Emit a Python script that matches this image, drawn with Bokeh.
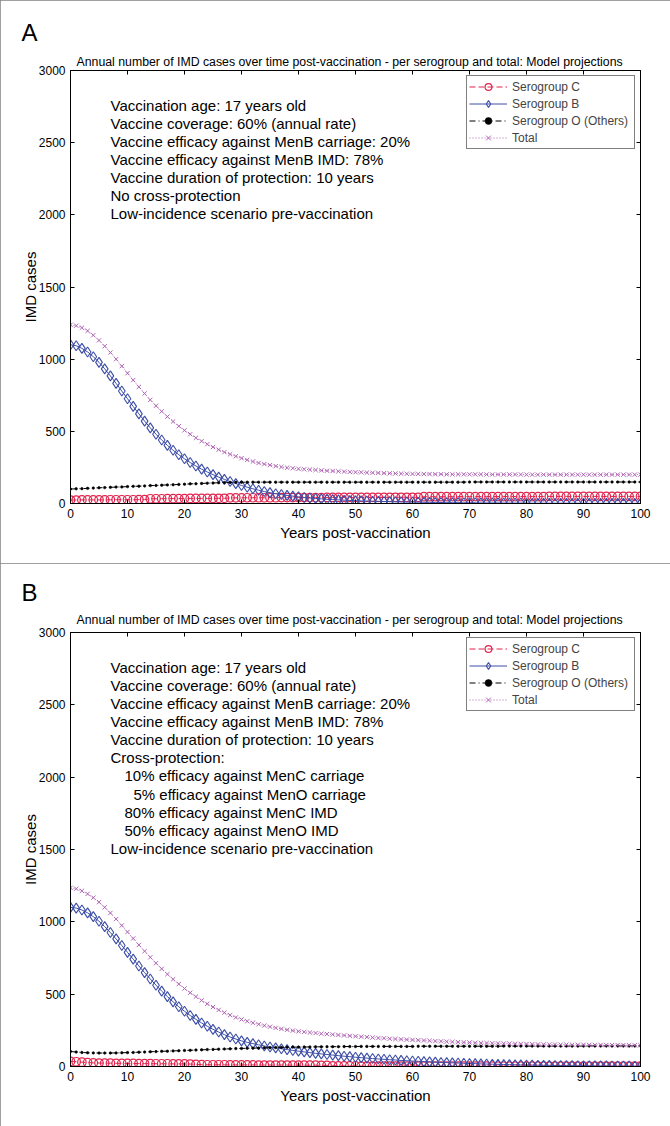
from bokeh.plotting import figure
from bokeh.models import Range1d, LinearAxis, FixedTicker, Label, Legend, LegendItem, Title
from bokeh.layouts import column
from bokeh.embed import file_html
from bokeh.resources import INLINE

# ---------------- data ----------------
years = list(range(0, 101))
x_ticks = [0, 10, 20, 30, 40, 50, 60, 70, 80, 90, 100]
y_ticks = [0, 500, 1000, 1500, 2000, 2500, 3000]
series_names = ["Serogroup C", "Serogroup B", "Serogroup O (Others)", "Total"]

title_text = ("Annual number of IMD cases over time post-vaccination - "
              "per serogroup and total: Model projections")

# Panel A : no cross-protection
a_sero_c = [24, 24, 25, 25, 25, 25, 25, 26, 26, 26,
            26, 26, 27, 27, 33, 33, 33, 34, 34, 34,
            34, 35, 35, 35, 35, 35, 36, 36, 39, 39,
            39, 40, 40, 40, 40, 40, 40, 41, 41, 41,
            41, 41, 41, 41, 41, 42, 42, 42, 42, 42,
            42, 42, 42, 42, 42, 42, 43, 43, 43, 43,
            43, 43, 47, 47, 47, 47, 47, 48, 48, 48,
            48, 48, 48, 48, 48, 48, 48, 48, 48, 48,
            48, 48, 48, 48, 49, 49, 49, 49, 49, 49,
            49, 49, 49, 49, 49, 49, 49, 49, 49, 49,
            49]
a_sero_b = [1100, 1093, 1075, 1050, 1017, 978, 933, 884, 832, 779,
            726, 673, 621, 571, 524, 480, 440, 403, 369, 338,
            310, 284, 260, 238, 218, 200, 183, 167, 152, 138,
            125, 113, 102, 92, 83, 75, 68, 62, 56, 51,
            46, 42, 38, 35, 32, 29, 27, 25, 23, 21,
            19, 18, 17, 16, 15, 14, 13, 12, 11, 10,
            10, 9, 8, 8, 7, 7, 6, 6, 6, 5,
            5, 5, 4, 4, 4, 4, 3, 3, 3, 3,
            3, 2, 2, 2, 2, 2, 2, 2, 2, 2,
            2, 1, 1, 1, 1, 1, 1, 1, 1, 1,
            1]
a_sero_o = [100, 102, 103, 105, 107, 109, 110, 112, 114, 115,
            117, 119, 120, 122, 124, 125, 127, 129, 130, 132,
            134, 136, 137, 139, 141, 142, 144, 145, 146, 147,
            147, 148, 148, 148, 148, 148, 148, 148, 148, 148,
            148, 148, 148, 148, 148, 148, 148, 148, 148, 148,
            148, 148, 148, 148, 148, 148, 148, 148, 148, 148,
            148, 148, 148, 148, 148, 148, 148, 148, 148, 148,
            149, 149, 149, 149, 149, 149, 149, 149, 149, 149,
            149, 149, 149, 149, 149, 149, 149, 149, 149, 149,
            149, 149, 149, 149, 149, 149, 149, 149, 149, 149,
            149]
a_total = [1238, 1232, 1218, 1196, 1166, 1130, 1090, 1046, 1000, 952,
           903, 855, 808, 762, 718, 677, 638, 602, 568, 536,
           507, 480, 455, 432, 411, 391, 373, 356, 341, 327,
           314, 302, 291, 281, 273, 266, 259, 253, 248, 244,
           240, 237, 235, 232, 229, 227, 225, 223, 221, 219,
           217, 216, 214, 213, 212, 210, 209, 208, 207, 206,
           205, 205, 204, 204, 203, 203, 202, 202, 202, 202,
           202, 202, 202, 201, 201, 201, 201, 201, 201, 201,
           200, 200, 200, 200, 200, 200, 200, 200, 200, 200,
           200, 200, 200, 200, 200, 200, 200, 200, 200, 200,
           200]

# Panel B : with cross-protection
b_sero_c = [35, 33, 30, 27, 25, 24, 23, 23, 22, 22,
            21, 21, 20, 20, 20, 19, 19, 19, 18, 18,
            18, 17, 15, 13, 12, 12, 12, 12, 11, 11,
            11, 11, 11, 10, 10, 10, 10, 10, 10, 9,
            9, 9, 9, 9, 8, 8, 5, 4, 4, 4,
            4, 3, 3, 3, 3, 3, 3, 3, 3, 3,
            3, 3, 3, 3, 3, 3, 3, 3, 3, 2,
            2, 2, 2, 2, 2, 2, 2, 2, 2, 2,
            2, 2, 2, 2, 2, 2, 2, 2, 2, 2,
            2, 2, 2, 2, 2, 2, 2, 2, 2, 2,
            2]
b_sero_b = [1100, 1095, 1082, 1062, 1036, 1004, 967, 926, 882, 836,
            789, 742, 695, 649, 605, 562, 521, 483, 447, 413,
            382, 353, 326, 301, 278, 257, 238, 220, 204, 190,
            177, 167, 158, 150, 142, 135, 129, 123, 117, 111,
            106, 101, 96, 91, 87, 83, 79, 75, 71, 68,
            64, 61, 58, 55, 52, 50, 47, 45, 42, 40,
            38, 36, 34, 32, 30, 28, 27, 25, 24, 22,
            21, 20, 18, 17, 16, 15, 14, 13, 12, 11,
            10, 10, 9, 8, 8, 7, 7, 6, 6, 5,
            5, 5, 4, 4, 4, 3, 3, 3, 3, 2,
            2]
b_sero_o = [104, 100, 97, 95, 94, 93, 93, 93, 94, 95,
            96, 97, 99, 100, 102, 103, 105, 106, 108, 109,
            111, 112, 114, 115, 117, 118, 120, 121, 122, 124,
            125, 126, 127, 128, 129, 130, 131, 132, 133, 134,
            134, 135, 135, 136, 136, 137, 137, 137, 138, 138,
            138, 139, 139, 139, 139, 139, 139, 139, 139, 139,
            139, 140, 140, 140, 140, 140, 140, 140, 140, 140,
            140, 140, 140, 140, 140, 140, 141, 141, 141, 141,
            141, 141, 141, 141, 141, 141, 141, 141, 141, 141,
            141, 142, 142, 142, 142, 142, 142, 142, 142, 142,
            142]
b_total = [1235, 1229, 1214, 1193, 1167, 1136, 1100, 1061, 1019, 975,
           930, 885, 840, 797, 755, 714, 675, 638, 603, 570,
           539, 510, 483, 457, 433, 411, 391, 372, 355, 339,
           325, 313, 302, 292, 283, 275, 267, 260, 254, 248,
           243, 239, 235, 231, 227, 224, 221, 218, 215, 212,
           209, 206, 203, 200, 197, 195, 192, 190, 188, 186,
           184, 182, 180, 178, 176, 174, 172, 170, 169, 167,
           166, 164, 163, 162, 161, 160, 159, 158, 157, 156,
           155, 154, 153, 153, 152, 152, 151, 151, 150, 150,
           150, 149, 149, 149, 148, 148, 148, 148, 147, 147,
           147]

a_notes = ["Vaccination age: 17 years old",
           "Vaccine coverage: 60% (annual rate)",
           "Vaccine efficacy against MenB carriage: 20%",
           "Vaccine efficacy against MenB IMD: 78%",
           "Vaccine duration of protection: 10 years",
           "No cross-protection",
           "Low-incidence scenario pre-vaccination"]
a_indent = [0, 0, 0, 0, 0, 0, 0]

b_notes = ["Vaccination age: 17 years old",
           "Vaccine coverage: 60% (annual rate)",
           "Vaccine efficacy against MenB carriage: 20%",
           "Vaccine efficacy against MenB IMD: 78%",
           "Vaccine duration of protection: 10 years",
           "Cross-protection:",
           "10% efficacy against MenC carriage",
           "5% efficacy against MenO carriage",
           "80% efficacy against MenC IMD",
           "50% efficacy against MenO IMD",
           "Low-incidence scenario pre-vaccination"]
b_indent = [0, 0, 0, 0, 0, 0, 14, 23, 14, 14, 0]

# ---------------- style ----------------
FONT = "Liberation Sans"
RED = "#e3234d"
BLUE = "#3d4ea6"
BLACK = "#000000"
MAGENTA = "#b064b4"
W, H = 670, 563
LEFT, RIGHT = 70, 30
FRAME_W = W - LEFT - RIGHT


def style_axis(ax, labels=True):
    ax.major_tick_in = 4
    ax.major_tick_out = 0
    ax.minor_tick_line_color = None
    ax.axis_line_color = "black"
    ax.major_tick_line_color = "black"
    if labels:
        ax.major_label_text_font = FONT
        ax.major_label_text_font_size = "12px"
        ax.major_label_text_color = "black"
        ax.axis_label_text_font = FONT
        ax.axis_label_text_font_size = "15px"
        ax.axis_label_text_font_style = "normal"
        ax.axis_label_text_color = "black"
    else:
        ax.major_label_text_font_size = "0px"
        ax.major_label_text_color = None
        ax.major_label_standoff = 0


def make_panel(letter, notes, indents, c, b, o, t, top, bottom, title_standoff, letter_standoff):
    frame_h = H - top - bottom
    dx = 100.0 / FRAME_W
    dy = 3000.0 / frame_h
    p = figure(width=W, height=H, x_range=Range1d(0, 100), y_range=Range1d(0, 3000),
               output_backend="svg", toolbar_location=None,
               min_border_left=LEFT, min_border_right=RIGHT,
               min_border_top=top, min_border_bottom=bottom,
               background_fill_color="white", border_fill_color="white",
               styles={"outline": "1px solid #808080", "outline-offset": "-1px"})
    p.xgrid.visible = False
    p.ygrid.visible = False
    p.outline_line_color = "black"
    p.outline_line_width = 1

    xa = p.xaxis[0]
    ya = p.yaxis[0]
    xa.ticker = FixedTicker(ticks=x_ticks)
    ya.ticker = FixedTicker(ticks=y_ticks)
    style_axis(xa)
    style_axis(ya)
    xa.axis_label = "Years post-vaccination"
    xa.axis_label_standoff = 3
    ya.axis_label = "IMD cases"
    ya.axis_label_standoff = -3

    top_ax = LinearAxis(ticker=FixedTicker(ticks=x_ticks))
    style_axis(top_ax, labels=False)
    p.add_layout(top_ax, "above")
    right_ax = LinearAxis(ticker=FixedTicker(ticks=y_ticks))
    style_axis(right_ax, labels=False)
    p.add_layout(right_ax, "right")

    # chart title and panel letter, stacked above the frame
    p.add_layout(Title(text=title_text, align="left", offset=6, text_font=FONT,
                       text_font_size="12.3px", text_font_style="normal", text_color="black",
                       standoff=title_standoff), "above")
    p.add_layout(Title(text=letter, align="left", offset=-49, text_font=FONT,
                       text_font_size="24px", text_font_style="normal", text_color="black",
                       standoff=letter_standoff), "above")

    lc = p.line(years, c, line_color=RED, line_width=1, line_dash="6 3")
    sc = p.scatter(years, c, marker="circle", size=8.5, line_color=RED, fill_color=None,
                   line_width=1.2)
    lb = p.line(years, b, line_color=BLUE, line_width=1)
    sb = p.scatter(years, b, marker="diamond", size=10, line_color=BLUE, fill_color=None,
                   line_width=1.1)
    lo = p.line(years, o, line_color=BLACK, line_width=1, line_dash="6 3 1 3")
    so = p.scatter(years, o, marker="circle", size=2.5, line_color=BLACK, fill_color=BLACK,
                   line_width=0.6)
    lt = p.line(years, t, line_color=MAGENTA, line_width=1, line_dash="1 2")
    st = p.scatter(years, t, marker="x", size=6, line_color=MAGENTA, line_width=1)

    items = [LegendItem(label=series_names[0], renderers=[lc, sc]),
             LegendItem(label=series_names[1], renderers=[lb, sb]),
             LegendItem(label=series_names[2], renderers=[lo, so]),
             LegendItem(label=series_names[3], renderers=[lt, st])]
    legend = Legend(items=items, location="top_right", margin=5, padding=2, spacing=0,
                    glyph_width=38, glyph_height=17, label_height=17, label_width=120,
                    label_standoff=5, label_text_font=FONT, label_text_font_size="12px",
                    border_line_color="black", border_line_width=1,
                    background_fill_color="white", background_fill_alpha=1.0)
    p.add_layout(legend)

    for i, (line, ind) in enumerate(zip(notes, indents)):
        p.add_layout(Label(x=(40 + ind) * dx, y=3000 - (34.5 + i * 18.15) * dy, text=line,
                           text_font=FONT, text_font_size="15px", text_baseline="middle",
                           text_align="left", text_color="black"))
    return p


pa = make_panel("A", a_notes, a_indent, a_sero_c, a_sero_b, a_sero_o, a_total,
                top=70, bottom=60, title_standoff=3, letter_standoff=11)
pb = make_panel("B", b_notes, b_indent, b_sero_c, b_sero_b, b_sero_o, b_total,
                top=69, bottom=60, title_standoff=11, letter_standoff=0)

layout = column(pa, pb, spacing=0)
open("out.html", "w").write(file_html(layout, INLINE))
